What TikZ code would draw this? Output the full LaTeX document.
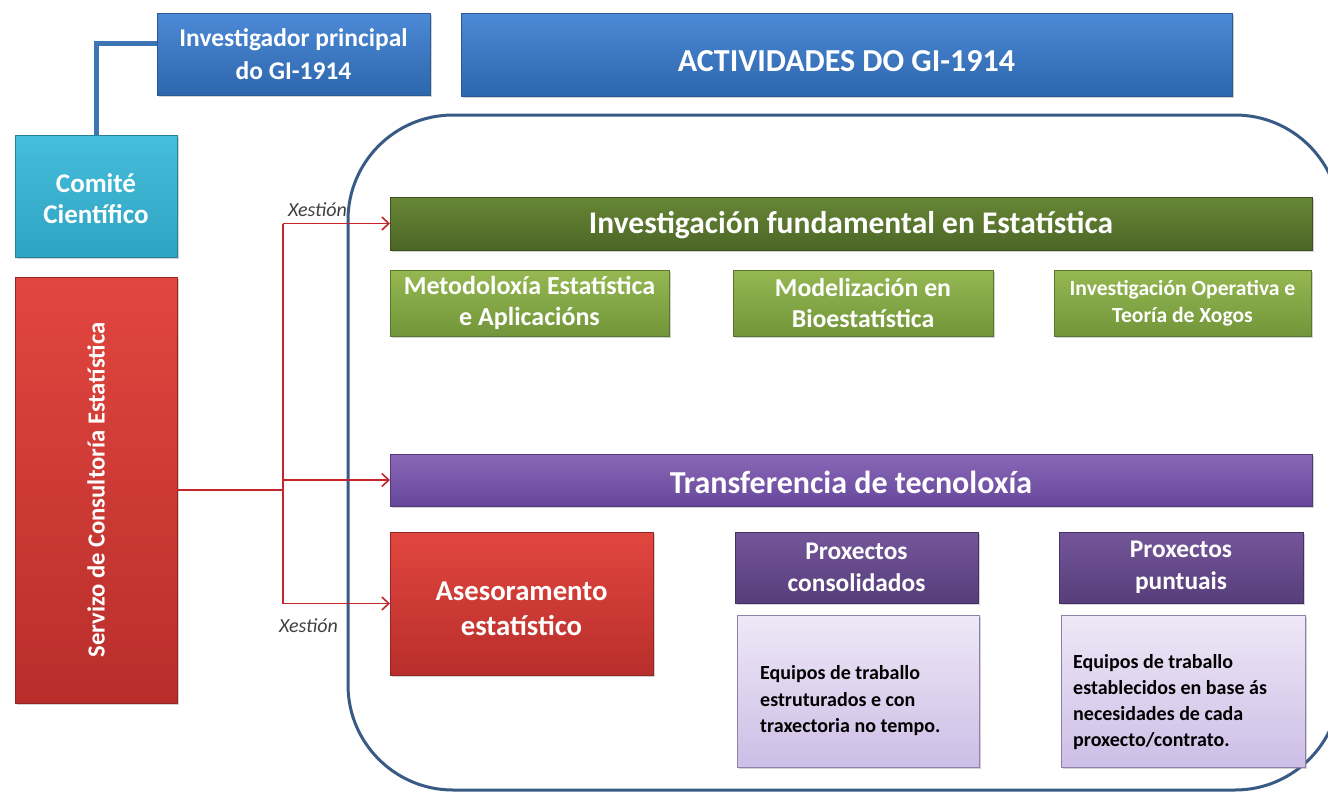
\documentclass[tikz,border=0pt]{standalone}
\usepackage{fontspec}
\setmainfont{Carlito}
\usetikzlibrary{shadows,arrows.meta}
\definecolor{blueT}{HTML}{4D8AD6}
\definecolor{blueB}{HTML}{2C66AC}
\definecolor{blueD}{HTML}{2A5A95}
\definecolor{cyanT}{HTML}{45BEDB}
\definecolor{cyanB}{HTML}{2FA3C2}
\definecolor{redT}{HTML}{E2463F}
\definecolor{redB}{HTML}{B82E2B}
\definecolor{dgreenT}{HTML}{678736}
\definecolor{dgreenB}{HTML}{4C6526}
\definecolor{lgreenT}{HTML}{95B852}
\definecolor{lgreenB}{HTML}{72953A}
\definecolor{purT}{HTML}{8A68B8}
\definecolor{purB}{HTML}{66479A}
\definecolor{dpurT}{HTML}{74569A}
\definecolor{dpurB}{HTML}{573D7A}
\definecolor{lavT}{HTML}{EEE8F7}
\definecolor{lavB}{HTML}{CDBEE6}
\definecolor{lavD}{HTML}{9080AC}
\definecolor{frame}{HTML}{385A85}
\definecolor{conred}{HTML}{C4262C}
\definecolor{conblue}{HTML}{3C74B4}
\newcommand{\lowr}[2]{\raisebox{-#1}[\height][\depth]{#2}}
\begin{document}
\begin{tikzpicture}[x=1pt,y=-1pt,
  box/.style={rectangle, inner sep=0pt, outer sep=0pt, align=center, text=white,
    font=\bfseries, line width=0.6pt,
    drop shadow={opacity=0.35, shadow xshift=2pt, shadow yshift=-2pt}},
  bluebox/.style={box, top color=blueT, bottom color=blueB, draw=blueD},
  cyanbox/.style={box, top color=cyanT, bottom color=cyanB, draw=cyanB!80!black},
  redbox/.style={box, top color=redT, bottom color=redB, draw=redB!80!black},
  dgreenbox/.style={box, top color=dgreenT, bottom color=dgreenB, draw=dgreenB!80!black},
  lgreenbox/.style={box, top color=lgreenT, bottom color=lgreenB, draw=lgreenB!80!black},
  purbox/.style={box, top color=purT, bottom color=purB, draw=purB!80!black},
  dpurbox/.style={box, top color=dpurT, bottom color=dpurB, draw=dpurB!80!black},
  lavbox/.style={box, top color=lavT, bottom color=lavB, draw=lavD, text=black, align=left},
  desc/.style={text=black, align=left, anchor=west, inner sep=0pt,
    font=\bfseries\fontsize{20}{26.5}\selectfont},
  conn/.style={draw=conred, line width=1.8pt},
  arr/.style={conn, -{Straight Barb[length=7pt,width=13pt,line width=1.6pt]}},
  xest/.style={text=black!75, font=\itshape\fontsize{20}{24}\selectfont, inner sep=0pt}
]
\useasboundingbox[fill=white] (0,0) rectangle (1328,795);

% big frame
\draw[frame, line width=3pt, rounded corners=105pt] (348,115) rectangle (1340,790);

% top boxes
\node[bluebox, minimum width=273pt, minimum height=82pt,
  font=\bfseries\fontsize{25.5}{33}\selectfont] (inv) at (293.5,54)
  {Investigador principal\\do GI-1914};
\node[bluebox, minimum width=771pt, minimum height=83pt,
  font=\bfseries\fontsize{32}{36}\selectfont] (act) at (846.5,54.5)
  {\lowr{7pt}{ACTIVIDADES DO GI-1914}};

\node[cyanbox, minimum width=162pt, minimum height=122pt,
  font=\bfseries\fontsize{27}{31}\selectfont] (com) at (96,196)
  {\lowr{3pt}{Comité}\\\lowr{3pt}{Científico}};

\node[redbox, minimum width=162pt, minimum height=426pt] (serv) at (96,490) {};
\node[rotate=90, text=white, font=\bfseries\fontsize{24.6}{28}\selectfont, inner sep=0pt]
  (servt) at (serv.center) {Servizo de Consultoría Estatística};

% blue connector
\draw[conblue, line width=5pt] (com.north) |- ([yshift=11pt]inv.west);

% inner boxes
\node[dgreenbox, minimum width=922pt, minimum height=53pt,
  font=\bfseries\fontsize{31.5}{34}\selectfont] (fund) at (851,223.5)
  {\lowr{2pt}{Investigación fundamental en Estatística}};
\node[lgreenbox, minimum width=279pt, minimum height=66pt,
  font=\bfseries\fontsize{26}{31}\selectfont] (met) at (529.5,303)
  {Metodoloxía Estatística\\e Aplicacións};
\node[lgreenbox, minimum width=260pt, minimum height=66pt,
  font=\bfseries\fontsize{25.8}{31}\selectfont] (mod) at (863,303)
  {Modelización en\\Bioestatística};
\node[lgreenbox, minimum width=257pt, minimum height=66pt,
  font=\bfseries\fontsize{21.6}{27}\selectfont] (ope) at (1182.5,303)
  {Investigación Operativa e\\Teoría de Xogos};

\node[purbox, minimum width=922pt, minimum height=52pt,
  font=\bfseries\fontsize{32}{34}\selectfont] (trans) at (851,480)
  {\lowr{2pt}{Transferencia de tecnoloxía}};
\node[redbox, minimum width=263pt, minimum height=143pt,
  font=\bfseries\fontsize{28.7}{35}\selectfont] (ase) at (521.5,603.5)
  {\lowr{5pt}{Asesoramento}\\\lowr{5pt}{estatístico}};

\node[dpurbox, minimum width=243pt, minimum height=71pt,
  font=\bfseries\fontsize{25.4}{32}\selectfont] (pc) at (856.5,567.5)
  {Proxectos\\consolidados};
\node[lavbox, minimum width=242pt, minimum height=152pt] (pcd) at (858,691) {};
\node[desc] (pct) at (760,701)
  {Equipos de traballo\\estruturados e con\\traxectoria no tempo.};

\node[dpurbox, minimum width=244pt, minimum height=71pt,
  font=\bfseries\fontsize{25.4}{32}\selectfont] (pp) at (1181,567.5)
  {Proxectos\\puntuais};
\node[lavbox, minimum width=244pt, minimum height=152pt] (ppd) at (1183,691) {};
\node[desc, font=\bfseries\fontsize{20}{26}\selectfont] (ppt) at (1073,702)
  {Equipos de traballo\\establecidos en base ás\\necesidades de cada\\proxecto/contrato.};

% red connectors
\coordinate (jx) at (283,490);
\draw[conn] (serv.east |- jx) -- (jx);
\draw[conn] (jx |- fund.west) -- (jx |- ase.west);
\draw[arr] (jx |- fund.west) -- (fund.west);
\draw[arr] (jx |- trans.west) -- (trans.west);
\draw[arr] (jx |- ase.west) -- (ase.west);

\node[xest] (x1) at (317.5,210) {Xestión};
\node[xest] (x2) at (308.5,626) {Xestión};
\end{tikzpicture}
\end{document}
